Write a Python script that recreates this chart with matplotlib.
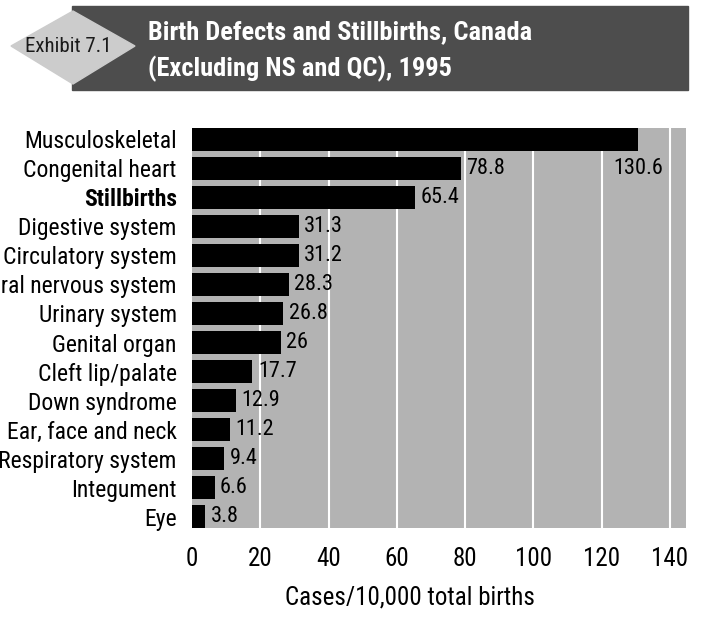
# Birth defects and stillbirths bar chart, Canada 1995
import matplotlib
matplotlib.use('Agg')
import matplotlib.pyplot as plt
from matplotlib.patches import Rectangle, Polygon

plt.rcParams['font.family'] = ['Roboto Condensed', 'DejaVu Sans']

# data
categories = ['Musculoskeletal', 'Congenital heart', 'Stillbirths', 'Digestive system',
              'Circulatory system', 'Central nervous system', 'Urinary system',
              'Genital organ', 'Cleft lip/palate', 'Down syndrome', 'Ear, face and neck',
              'Respiratory system', 'Integument', 'Eye']
values = [130.6, 78.8, 65.4, 31.3, 31.2, 28.3, 26.8, 26, 17.7, 12.9, 11.2, 9.4, 6.6, 3.8]
value_labels = ['130.6', '78.8', '65.4', '31.3', '31.2', '28.3', '26.8', '26', '17.7',
                '12.9', '11.2', '9.4', '6.6', '3.8']
xticks = [0, 20, 40, 60, 80, 100, 120, 140]

W, H = 702, 631
fig = plt.figure(figsize=(W / 100, H / 100), dpi=100)

# header banner and the diamond badge, drawn in pixel coordinates
hdr = fig.add_axes([0, 0, 1, 1])
hdr.set_xlim(0, W)
hdr.set_ylim(H, 0)
hdr.axis('off')
hdr.add_patch(Rectangle((72, 6), 616, 84, color='#4d4d4d'))
hdr.add_patch(Polygon([(11, 46), (73, 11), (135, 46), (73, 84)], closed=True,
                      color='#cccccc'))
hdr.text(68, 47, 'Exhibit 7.1', fontsize=15, ha='center', va='center', color='#1a1a1a')
hdr.text(148, 32, 'Birth Defects and Stillbirths, Canada', fontsize=19,
         fontweight='bold', color='white', ha='left', va='center')
hdr.text(148, 69, '(Excluding NS and QC), 1995', fontsize=19,
         fontweight='bold', color='white', ha='left', va='center')

# bar chart
ax = fig.add_axes([192 / W, 1 - 528 / H, (686 - 192) / W, 400 / H])
ax.set_facecolor('#b3b3b3')
ypos = list(range(len(categories)))
bh = 0.78
ax.barh(ypos, values, height=bh, color='black', zorder=3)
ax.set_ylim(len(categories) - 1 + bh / 2, -bh / 2)
ax.set_xlim(0, 144.7)
for x in xticks[1:]:
    ax.axvline(x, color='white', lw=1.5, zorder=1)

# value labels; the longest bar gets its label tucked underneath
for i, (v, lab) in enumerate(zip(values, value_labels)):
    if i == 0:
        ax.text(v, i + 1, lab, fontsize=16, ha='center', va='center', zorder=4)
    else:
        ax.text(v + 1.6, i, lab, fontsize=16, ha='left', va='center', zorder=4)

ax.set_yticks(ypos)
ax.set_yticklabels(categories, fontsize=17)
ax.get_yticklabels()[2].set_fontweight('bold')
ax.set_xticks(xticks)
ax.set_xticklabels([str(t) for t in xticks], fontsize=18)
ax.tick_params(axis='both', length=0)
ax.tick_params(axis='y', pad=11)
ax.tick_params(axis='x', pad=14)
for s in ax.spines.values():
    s.set_visible(False)

fig.text(410 / W, 1 - 598 / H, 'Cases/10,000 total births', fontsize=18,
         ha='center', va='center')

fig.savefig('out.png', dpi=100)
